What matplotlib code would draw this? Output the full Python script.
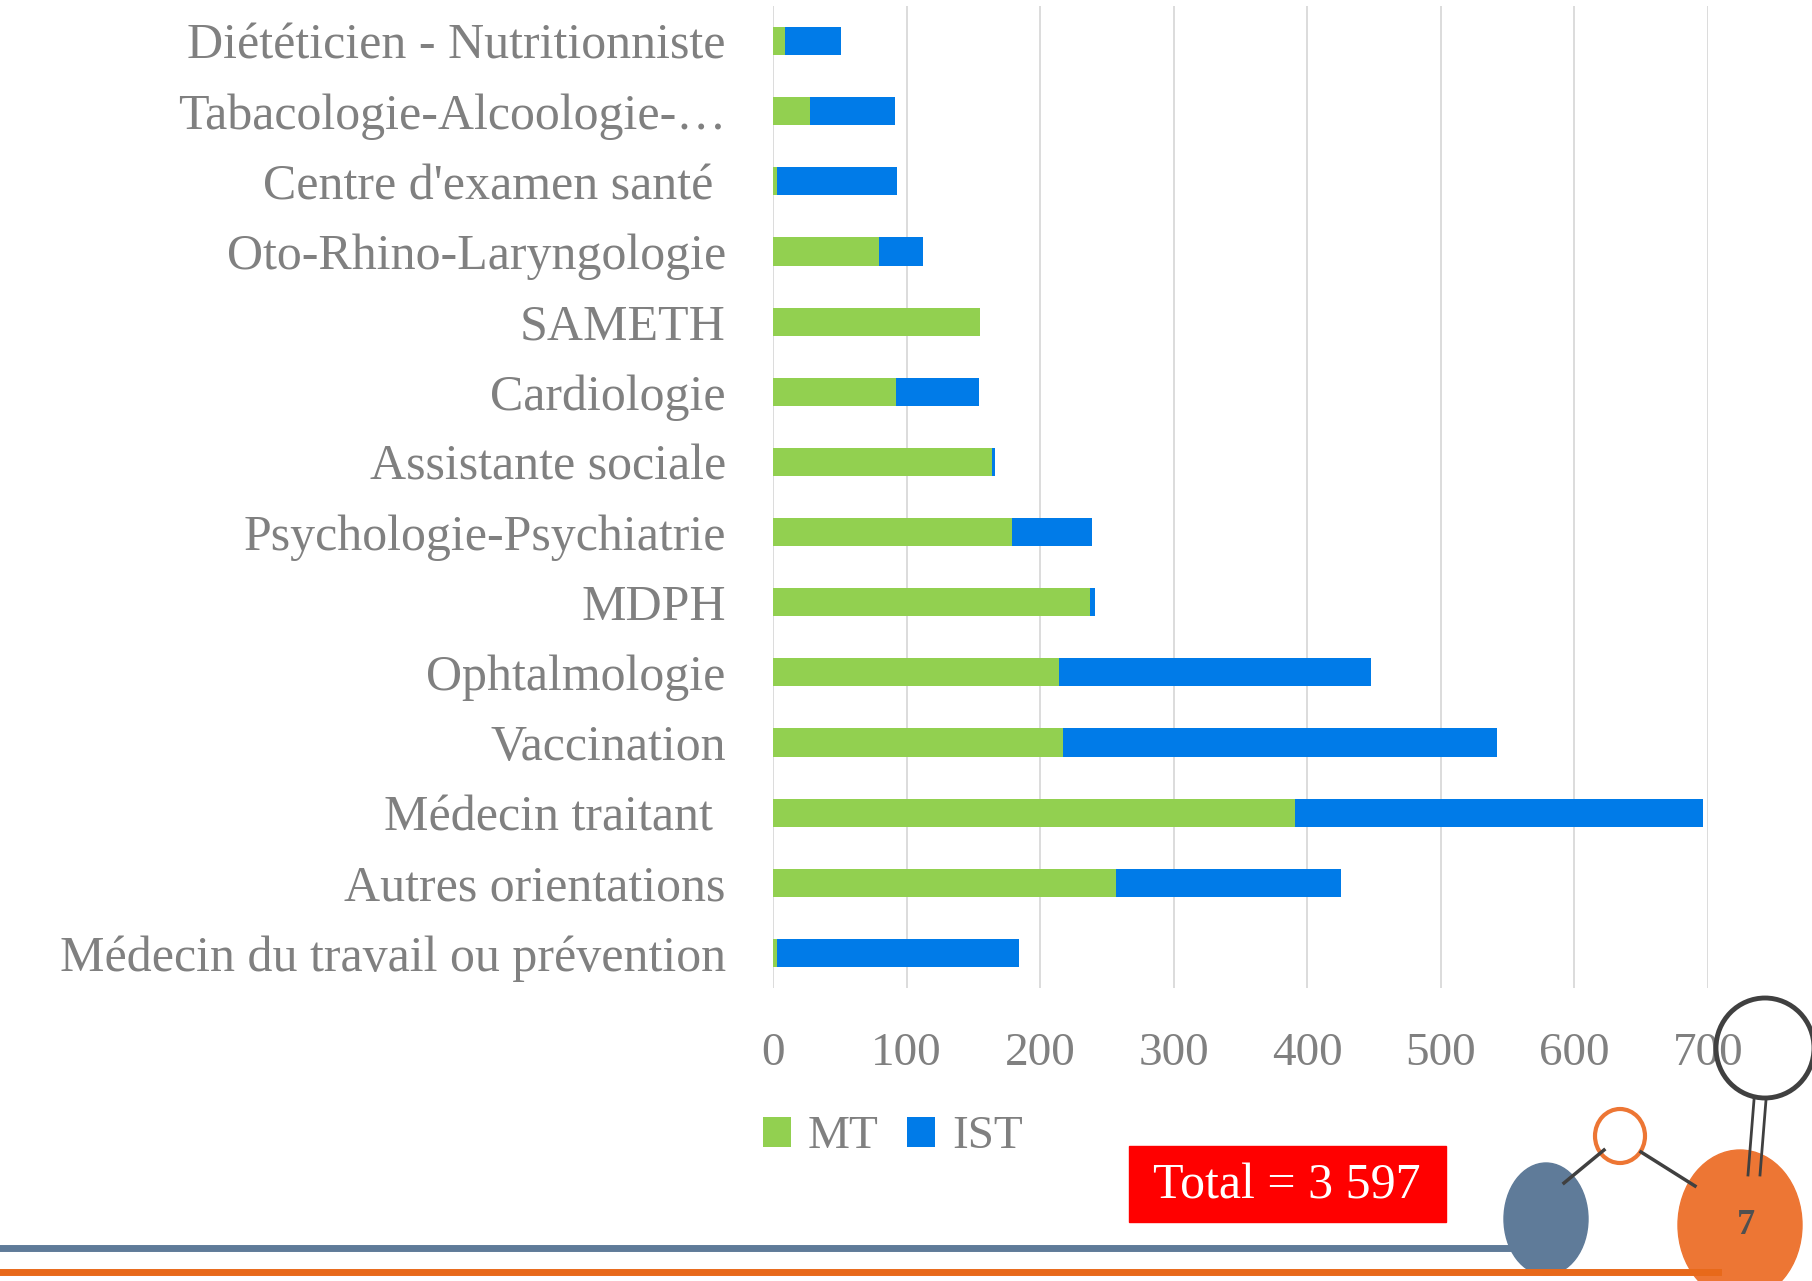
import matplotlib
matplotlib.use('Agg')
import matplotlib.pyplot as plt
from matplotlib.patches import Rectangle, Ellipse
from matplotlib.lines import Line2D

# data (bottom to top as drawn)
categories = ['Médecin du travail ou prévention', 'Autres orientations', 'Médecin traitant ',
              'Vaccination', 'Ophtalmologie', 'MDPH', 'Psychologie-Psychiatrie',
              'Assistante sociale', 'Cardiologie', 'SAMETH', 'Oto-Rhino-Laryngologie',
              "Centre d'examen santé ", 'Tabacologie-Alcoologie-…', 'Diététicien - Nutritionniste']
mt = [3, 257, 391, 217, 214, 237, 179, 164, 92, 155, 79, 3, 28, 9]
ist = [181, 168, 305, 325, 234, 4, 60, 2, 62, 0, 33, 90, 63, 42]
series = ['MT', 'IST']
xticks = [0, 100, 200, 300, 400, 500, 600, 700]
total_label = 'Total = 3 597'

GREEN = '#92d050'
BLUE = '#007be8'
GRAY = '#808080'
W, H = 1812, 1281

plt.rcParams['font.family'] = ['Liberation Serif', 'DejaVu Serif']

fig = plt.figure(figsize=(W / 100, H / 100), dpi=100)
ax = fig.add_axes([773 / W, 1 - 988 / H, (1708 - 773) / W, (988 - 6) / H])

y = range(len(categories))
ax.barh(y, mt, height=0.4, color=GREEN, label=series[0])
ax.barh(y, ist, left=mt, height=0.4, color=BLUE, label=series[1])

ax.set_xlim(0, 700)
ax.set_ylim(-0.5, len(categories) - 0.5)
ax.set_xticks(xticks)
ax.set_xticklabels([str(t) for t in xticks])
ax.set_yticks(list(y))
ax.set_yticklabels(categories)
ax.tick_params(axis='y', length=0, pad=34, labelsize=36, labelcolor=GRAY)
ax.tick_params(axis='x', length=0, pad=32, labelsize=34, labelcolor=GRAY)
ax.grid(axis='x', color='#d9d9d9', linewidth=1.3)
ax.set_axisbelow(True)
for s in ax.spines.values():
    s.set_visible(False)

ax.legend(loc='center left', bbox_to_anchor=(763 / W, 1 - 1137 / H), bbox_transform=fig.transFigure,
          ncol=2, frameon=False, fontsize=34, labelcolor=GRAY, handlelength=0.6, handleheight=0.6,
          handletextpad=0.35, columnspacing=0.6, borderpad=0, borderaxespad=0)

# total box
fig.patches.append(Rectangle((1129 / W, 1 - 1222 / H), (1446 - 1129) / W, (1222 - 1146) / H,
                             transform=fig.transFigure, color='#ff0000'))
fig.text(1287 / W, 1 - 1186 / H, total_label, color='white', fontsize=36, ha='center', va='center')

# slide decoration
def fx(px):
    return px / W

def fy(py):
    return 1 - py / H

fig.add_artist(Line2D([0, fx(1550)], [fy(1248), fy(1248)], color='#5f7b99', lw=5))
fig.add_artist(Line2D([0, fx(1718)], [fy(1272), fy(1272)], color='#e8691a', lw=5))
fig.add_artist(Line2D([fx(1564), fx(1604)], [fy(1183), fy(1150)], color='#404040', lw=2.5))
fig.add_artist(Line2D([fx(1641), fx(1695)], [fy(1152), fy(1186)], color='#404040', lw=2.5))
fig.add_artist(Line2D([fx(1748), fx(1754)], [fy(1175), fy(1100)], color='#404040', lw=2))
fig.add_artist(Line2D([fx(1760), fx(1766)], [fy(1175), fy(1100)], color='#404040', lw=2))
fig.patches.append(Ellipse((fx(1546), fy(1219)), 84 / W, 112 / H, transform=fig.transFigure,
                           color='#5f7b99'))
fig.patches.append(Ellipse((fx(1740), fy(1225)), 124 / W, 150 / H, transform=fig.transFigure,
                           color='#ed7634'))
fig.patches.append(Ellipse((fx(1620), fy(1136)), 50 / W, 54 / H, transform=fig.transFigure,
                           fill=False, ec='#ed7634', lw=3))
fig.patches.append(Ellipse((fx(1765), fy(1048)), 98 / W, 100 / H, transform=fig.transFigure,
                           fill=False, ec='#404040', lw=3.5))
fig.text(fx(1746), fy(1226), '7', color='#505050', fontsize=26, fontweight='bold', ha='center', va='center')

fig.savefig('out.png', dpi=100)
